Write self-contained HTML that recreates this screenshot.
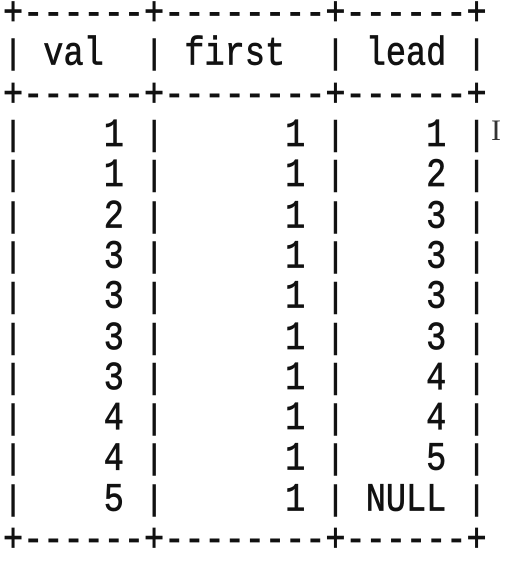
<!DOCTYPE html>
<html><head><meta charset="utf-8"><style>
html,body{margin:0;padding:0;background:#fff;width:511px;height:555px;overflow:hidden}
pre{position:absolute;left:3px;top:-5px;margin:0;font-family:"Liberation Mono",monospace;font-size:33.6px;line-height:34.32px;color:#111;-webkit-text-stroke:0.6px #111;transform:scaleY(1.18);transform-origin:0 0}
.p{display:inline-block;transform:scaleY(0.87);transform-origin:50% 55%}
.cursor{position:absolute;left:491px;top:114px;font-family:"Liberation Serif",serif;font-size:30px;color:#333}
</style></head><body>
<pre id="t">+------+--------+------+
| val  | first  | lead |
+------+--------+------+
|    1 |      1 |    1 |
|    1 |      1 |    2 |
|    2 |      1 |    3 |
|    3 |      1 |    3 |
|    3 |      1 |    3 |
|    3 |      1 |    3 |
|    3 |      1 |    4 |
|    4 |      1 |    4 |
|    4 |      1 |    5 |
|    5 |      1 | NULL |
+------+--------+------+</pre>
<div class="cursor">I</div>
<script>
var t=document.getElementById('t');
t.innerHTML=t.textContent.replace(/\|/g,'<span class="p">|</span>');
</script>
</body></html>
